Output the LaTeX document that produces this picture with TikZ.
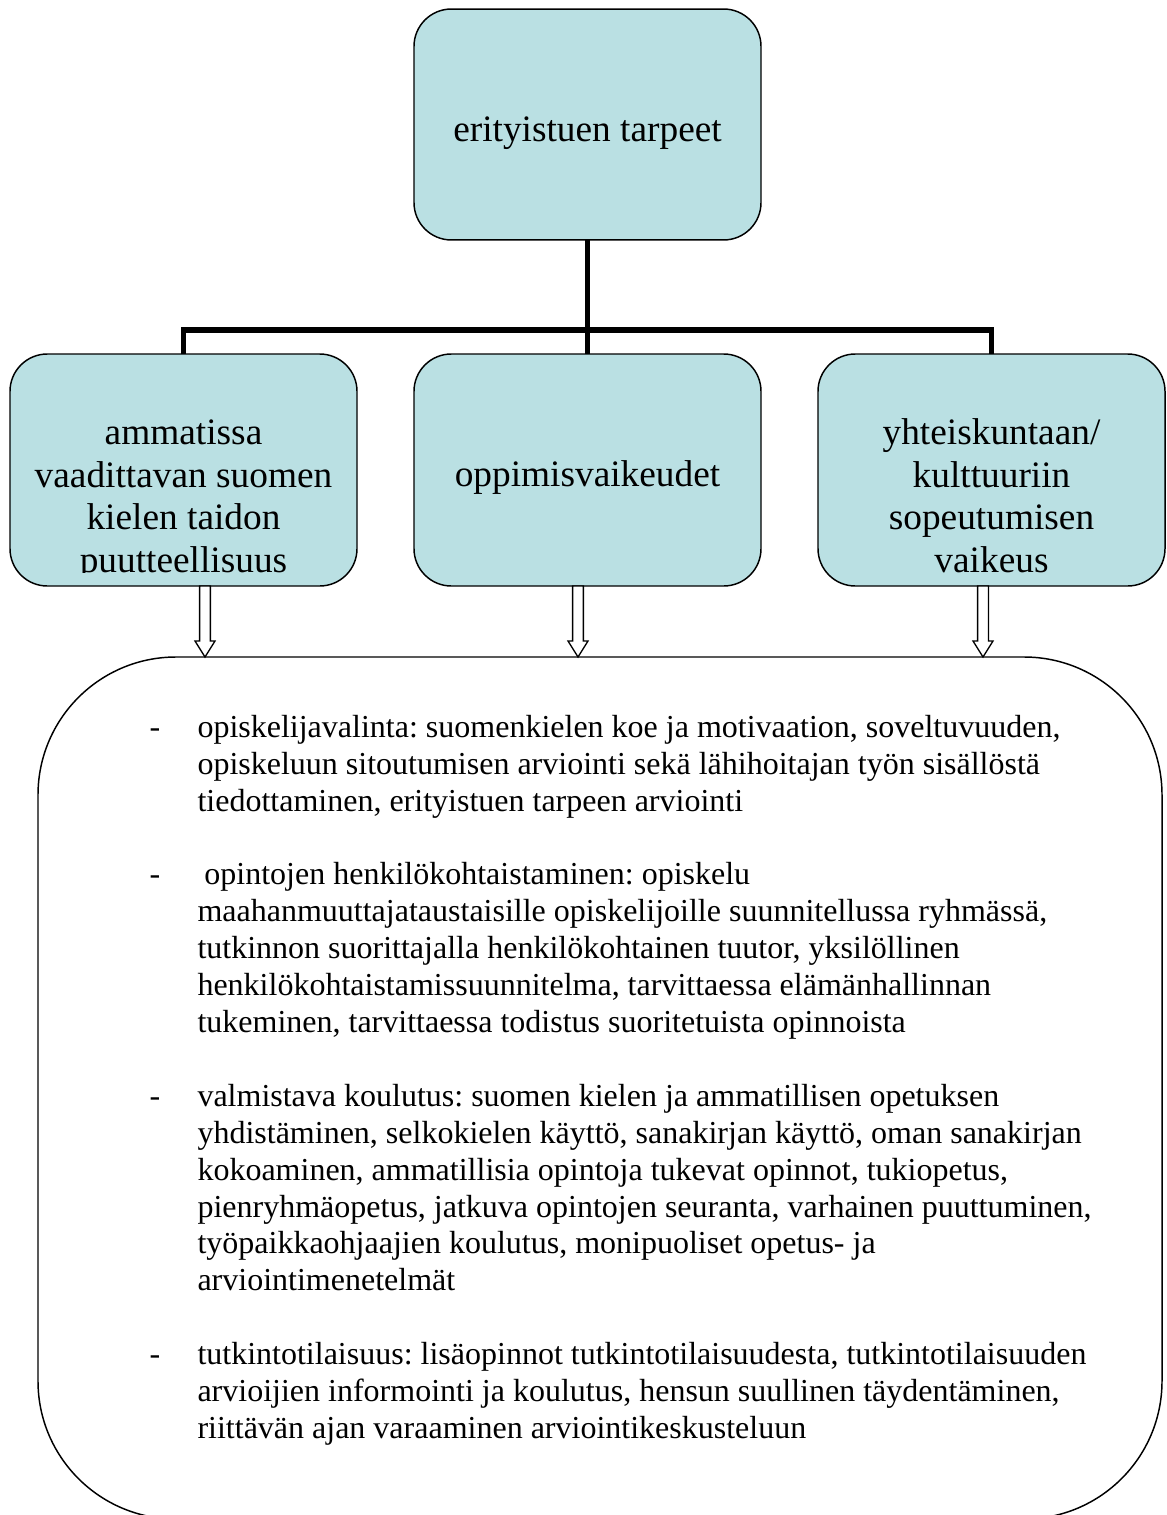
\documentclass[tikz,border=0pt]{standalone}
\usepackage{fontspec}
\setmainfont{Liberation Serif}
\usetikzlibrary{calc}
\definecolor{boxfill}{RGB}{186,224,227}
\newcommand\blockarrow[2]{%
  \draw[barrow] ($(#1)+(-5.4,0)$) -- ($(#1)+(5.4,0)$) -- ($(#2)+(5.4,-16)$)
    -- ($(#2)+(10,-16)$) -- (#2) -- ($(#2)+(-10,-16)$) -- ($(#2)+(-5.4,-16)$) -- cycle;}
\newcommand\dsh{\makebox[18pt][l]{-}}
\newcommand\ind{\hspace*{18pt}}
\frenchspacing
\begin{document}
\begin{tikzpicture}[x=0.375pt, y=-0.375pt,
  box/.style={draw=black, line width=0.55pt, fill=boxfill, rounded corners=14pt,
    inner sep=0pt, outer sep=0pt, minimum width=130.125pt, minimum height=87pt},
  boxtext/.style={inner sep=0pt, align=center, font=\fontsize{14pt}{15.95pt}\selectfont},
  bigbox/.style={draw=black, line width=0.55pt, fill=white, rounded corners=51.75pt,
    inner sep=0pt, outer sep=0pt, minimum width=421.5pt, minimum height=323.25pt},
  listtext/.style={inner sep=0pt, align=left, font=\fontsize{12pt}{13.84pt}\selectfont},
  conn/.style={line width=2pt, line join=miter},
  barrow/.style={draw=black, line width=0.5pt, fill=white, line join=miter}]
\useasboundingbox (0,0) rectangle (1166,1515);
\clip (0,0) rectangle (1166,1515);

% boxes
\node[box, minimum height=86.6pt] (top) at (587.5,124.5) {};
\node[box] (b1) at (183.5,470) {};
\node[box] (b2) at (587.5,470) {};
\node[box] (b3) at (991.5,470) {};

% box texts
\node[boxtext, anchor=base] (ttop) at (587.5,142) {erityistuen tarpeet};
\begin{scope}
  \clip (b1.north west) rectangle ($(b1.south east)+(0,-14)$);
  \node[boxtext, anchor=north] (t1) at (183.5,412)
    {\rule{0pt}{12pt}ammatissa\\vaadittavan suomen\\kielen taidon\\puutteellisuus};
\end{scope}
\node[boxtext, anchor=base] (t2) at (587.5,486.7) {oppimisvaikeudet};
\begin{scope}
  \clip (b3.north west) rectangle ($(b3.south east)+(0,-14)$);
  \node[boxtext, anchor=north] (t3) at (991.5,412)
    {\rule{0pt}{12pt}yhteiskuntaan/\\kulttuuriin\\sopeutumisen\\vaikeus};
\end{scope}

% tree connectors
\coordinate (bus) at (587.5,330);
\draw[conn] (top.south) -- (b2.north);
\draw[conn] (b1.north) -- (b1.north |- bus) -- (b3.north |- bus) -- (b3.north);

% big box
\node[bigbox] (big) at (600,1088) {};

% block arrows
\coordinate (a1s) at ($(b1.south)+(21.5,0)$);
\coordinate (a2s) at ($(b2.south)+(-9.5,0)$);
\coordinate (a3s) at ($(b3.south)+(-8.5,0)$);
\coordinate (a1e) at (a1s |- big.north);
\coordinate (a2e) at (a2s |- big.north);
\coordinate (a3e) at (a3s |- big.north);
\blockarrow{a1s}{a1e}
\blockarrow{a2s}{a2e}
\blockarrow{a3s}{a3e}

% list
\node[listtext, anchor=north west] (list) at (149,710)
{\rule{0pt}{10pt}\dsh opiskelijavalinta: suomenkielen koe ja motivaation, soveltuvuuden,\\
\ind opiskeluun sitoutumisen arviointi sekä lähihoitajan työn sisällöstä\\
\ind tiedottaminen, erityistuen tarpeen arviointi\\[13.84pt]
\dsh\hspace*{2.6pt}opintojen henkilökohtaistaminen: opiskelu\\
\ind maahanmuuttajataustaisille opiskelijoille suunnitellussa ryhmässä,\\
\ind tutkinnon suorittajalla henkilökohtainen tuutor, yksilöllinen\\
\ind henkilökohtaistamissuunnitelma, tarvittaessa elämänhallinnan\\
\ind tukeminen, tarvittaessa todistus suoritetuista opinnoista\\[13.84pt]
\dsh valmistava koulutus: suomen kielen ja ammatillisen opetuksen\\
\ind yhdistäminen, selkokielen käyttö, sanakirjan käyttö, oman sanakirjan\\
\ind kokoaminen, ammatillisia opintoja tukevat opinnot, tukiopetus,\\
\ind pienryhmäopetus, jatkuva opintojen seuranta, varhainen puuttuminen,\\
\ind työpaikkaohjaajien koulutus, monipuoliset opetus- ja\\
\ind arviointimenetelmät\\[13.84pt]
\dsh tutkintotilaisuus: lisäopinnot tutkintotilaisuudesta, tutkintotilaisuuden\\
\ind arvioijien informointi ja koulutus, hensun suullinen täydentäminen,\\
\ind riittävän ajan varaaminen arviointikeskusteluun};
\end{tikzpicture}
\end{document}
